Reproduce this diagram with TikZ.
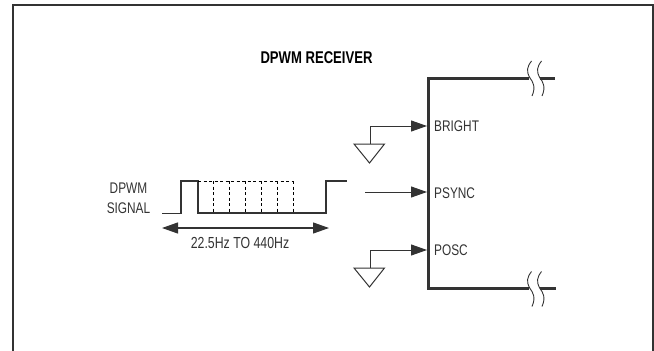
\documentclass[tikz,border=0pt]{standalone}
\usepackage{fontspec}
\setmainfont[FakeStretch=0.77]{Liberation Sans}
\usetikzlibrary{arrows.meta}
\definecolor{inkdark}{gray}{0.2}
\tikzset{
    wire/.style={draw=inkdark, line width=1pt},
    pulse/.style={draw=inkdark, line width=1.3pt},
    heavy/.style={draw=inkdark, line width=3pt},
    dotted wire/.style={draw=black, line width=1pt, dash pattern=on 3pt off 2.5pt},
    tipped/.style={wire, -{Triangle[length=16pt,width=11pt]}},
    both tipped/.style={wire, line width=1.2pt, {Triangle[length=16pt,width=11pt]}-{Triangle[length=16pt,width=11pt]}},
    pinlabel/.style={anchor=west, inner sep=0pt, text=inkdark, font=\fontsize{15.4pt}{17pt}\selectfont},
    plainlabel/.style={inner sep=0pt, text=inkdark, font=\fontsize{15.4pt}{17pt}\selectfont}
}
\begin{document}
\begin{tikzpicture}[x=1pt,y=-1pt]
\useasboundingbox (0,0) rectangle (654,351);

% Open frame
\draw[draw=inkdark, line width=2pt] (13,351) -- (13,5) -- (653,5) -- (653,351);

% Receiver outline
\coordinate (topleftend) at (529,78);
\coordinate (toprightstart) at (539.5,78);
\coordinate (topend) at (555,78);
\coordinate (topcorner) at (428,78);
\coordinate (botcorner) at (428,288.5);
\coordinate (botleftend) at (529,288.5);
\coordinate (botrightstart) at (539.5,288.5);
\coordinate (botend) at (556,288.5);
\draw[heavy] (topleftend) -- (topcorner) -- (botcorner) -- (botleftend);
\draw[heavy] (toprightstart) -- (topend);
\draw[heavy] (botrightstart) -- (botend);
\node[plainlabel, font=\fontsize{17pt}{19pt}\selectfont\bfseries, text=black] (title) at (316.5,58) {DPWM RECEIVER};

% Break marks
\foreach \x/\y in {530/78, 540/78, 530/288.5, 540/288.5} {
    \draw[wire, line width=.9pt] (\x+1.5,\y-17) .. controls (\x-3,\y-11) and (\x-4,\y-7) .. (\x,\y)
        .. controls (\x+3,\y+4) and (\x+6,\y+9) .. (\x+2,\y+18);
}

% Pin arrows
\node[pinlabel] (bright) at (434,126) {BRIGHT};
\node[pinlabel] (psync) at (434,193) {PSYNC};
\node[pinlabel] (posc) at (434,250) {POSC};
\coordinate (brightpin) at (427,126);
\coordinate (psyncpin) at (427,192);
\coordinate (poscpin) at (427,250);
\coordinate (psyncfree) at (365,192);
\coordinate (brightgnd) at (370,144);
\coordinate (poscgnd) at (370,268);
\draw[tipped] (brightgnd) -- (370,126) -- (brightpin);
\draw[tipped] (psyncfree) -- (psyncpin);
\draw[tipped] (poscgnd) -- (370,250) -- (poscpin);

% Ground symbols
\foreach \y in {144, 268} {
    \draw[wire] (354,\y) -- (384.5,\y) -- (369.5,\y+19) -- cycle;
}

% DPWM waveform
\draw[pulse] (162,213.5) -- (181,213.5) -- (181,181) -- (198,181) -- (198,213) -- (326,213) -- (326,181) -- (347,181);
\draw[dotted wire] (198,181) -- (293,181);
\foreach \x in {213, 229, 245, 261, 277, 293} {
    \draw[dotted wire] (\x,181) -- (\x,213);
}
\node[plainlabel] (dpwm) at (128.5,188) {DPWM};
\node[plainlabel] (signal) at (128.5,208) {SIGNAL};

% Period
\coordinate (periodleft) at (162,228);
\coordinate (periodright) at (329,228);
\draw[both tipped] (periodleft) -- (periodright);
\node[plainlabel, font=\fontsize{16pt}{18pt}\selectfont] (period) at (240,242.5) {22.5Hz TO 440Hz};

\end{tikzpicture}
\end{document}
